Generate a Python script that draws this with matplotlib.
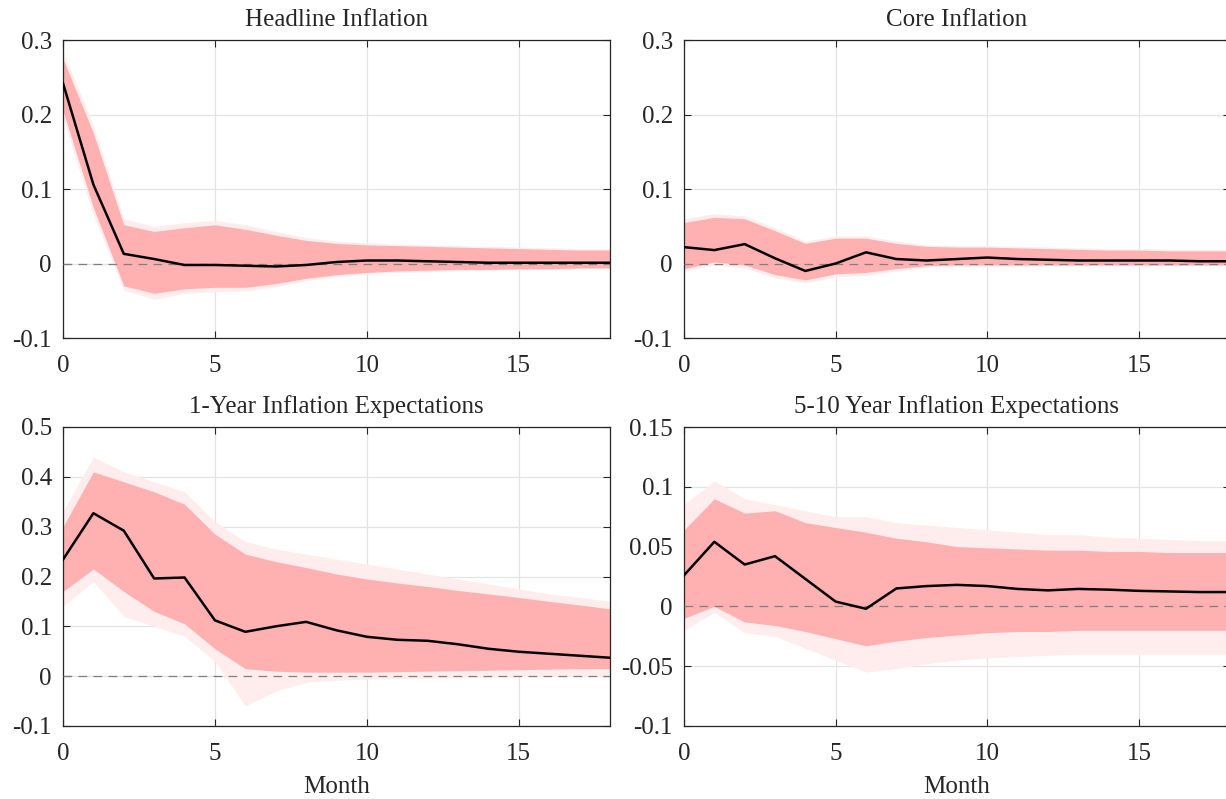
import numpy as np
import matplotlib
matplotlib.use("Agg")
import matplotlib.pyplot as plt
from matplotlib.ticker import FuncFormatter

plt.rcParams['font.family'] = ['Liberation Serif', 'DejaVu Serif']
plt.rcParams['axes.unicode_minus'] = False

months = np.arange(0, 19)

# median responses
headline = [0.242, 0.106, 0.013, 0.006, -0.002, -0.002, -0.003, -0.004, -0.002, 0.002,
            0.004, 0.004, 0.003, 0.002, 0.001, 0.001, 0.001, 0.001, 0.001]
core = [0.022, 0.018, 0.026, 0.007, -0.010, 0.000, 0.015, 0.006, 0.004, 0.006,
        0.008, 0.006, 0.005, 0.004, 0.004, 0.004, 0.004, 0.003, 0.003]
exp1y = [0.234, 0.327, 0.292, 0.196, 0.198, 0.112, 0.089, 0.100, 0.109, 0.092,
         0.079, 0.073, 0.071, 0.064, 0.055, 0.049, 0.045, 0.041, 0.037]
exp510 = [0.026, 0.054, 0.035, 0.042, 0.023, 0.004, -0.002, 0.015, 0.017, 0.018,
          0.017, 0.0146, 0.0134, 0.0146, 0.014, 0.013, 0.0125, 0.012, 0.012]

# dense band of draws (upper / lower)
headline_hi = [0.275, 0.175, 0.052, 0.043, 0.048, 0.052, 0.046, 0.038, 0.031, 0.027,
               0.025, 0.024, 0.023, 0.022, 0.021, 0.020, 0.019, 0.018, 0.018]
headline_lo = [0.205, 0.075, -0.030, -0.040, -0.034, -0.032, -0.032, -0.027, -0.020, -0.015,
               -0.012, -0.010, -0.009, -0.008, -0.008, -0.007, -0.007, -0.006, -0.006]
core_hi = [0.055, 0.062, 0.060, 0.044, 0.027, 0.034, 0.034, 0.027, 0.023, 0.022,
           0.022, 0.021, 0.020, 0.019, 0.018, 0.018, 0.017, 0.017, 0.017]
core_lo = [-0.007, 0.002, -0.002, -0.015, -0.022, -0.014, -0.012, -0.007, -0.003, -0.002,
           -0.002, -0.002, -0.002, -0.002, -0.002, -0.002, -0.002, -0.002, -0.002]
exp1y_hi = [0.300, 0.410, 0.390, 0.370, 0.345, 0.285, 0.245, 0.230, 0.218, 0.205,
            0.195, 0.187, 0.180, 0.172, 0.165, 0.158, 0.150, 0.143, 0.135]
exp1y_lo = [0.170, 0.215, 0.170, 0.130, 0.105, 0.055, 0.015, 0.010, 0.008, 0.008,
            0.008, 0.009, 0.010, 0.011, 0.012, 0.013, 0.014, 0.015, 0.015]
exp510_hi = [0.064, 0.090, 0.078, 0.080, 0.070, 0.066, 0.062, 0.057, 0.054, 0.050,
             0.049, 0.048, 0.047, 0.047, 0.046, 0.046, 0.045, 0.045, 0.045]
exp510_lo = [-0.010, 0.000, -0.013, -0.016, -0.021, -0.027, -0.033, -0.029, -0.026, -0.024,
             -0.022, -0.021, -0.021, -0.020, -0.020, -0.020, -0.020, -0.020, -0.020]

# faint outer draws
headline_hi2 = [0.285, 0.185, 0.060, 0.050, 0.055, 0.058, 0.052, 0.043, 0.035, 0.030,
                0.028, 0.026, 0.025, 0.024, 0.023, 0.022, 0.021, 0.020, 0.020]
headline_lo2 = [0.195, 0.065, -0.036, -0.048, -0.040, -0.038, -0.037, -0.031, -0.023, -0.017,
                -0.014, -0.012, -0.011, -0.010, -0.009, -0.008, -0.008, -0.007, -0.007]
core_hi2 = [0.060, 0.067, 0.064, 0.048, 0.030, 0.037, 0.037, 0.030, 0.025, 0.024,
            0.024, 0.023, 0.022, 0.021, 0.020, 0.020, 0.019, 0.019, 0.019]
core_lo2 = [-0.010, -0.002, -0.006, -0.019, -0.026, -0.018, -0.016, -0.010, -0.005, -0.004,
            -0.004, -0.004, -0.003, -0.003, -0.003, -0.003, -0.003, -0.003, -0.003]
exp1y_hi2 = [0.330, 0.440, 0.410, 0.390, 0.370, 0.310, 0.270, 0.255, 0.245, 0.235,
             0.225, 0.215, 0.205, 0.195, 0.185, 0.175, 0.165, 0.158, 0.150]
exp1y_lo2 = [0.140, 0.190, 0.120, 0.100, 0.080, 0.030, -0.060, -0.030, -0.012, -0.008,
             -0.006, -0.005, -0.004, -0.003, -0.002, -0.001, 0.000, 0.000, 0.000]
exp510_hi2 = [0.085, 0.105, 0.090, 0.085, 0.080, 0.075, 0.075, 0.070, 0.068, 0.066,
              0.064, 0.062, 0.060, 0.060, 0.058, 0.057, 0.056, 0.055, 0.055]
exp510_lo2 = [-0.020, -0.005, -0.022, -0.025, -0.035, -0.045, -0.055, -0.052, -0.048, -0.045,
              -0.043, -0.042, -0.041, -0.040, -0.040, -0.040, -0.040, -0.040, -0.040]

titles = ['Headline Inflation', 'Core Inflation',
          '1-Year Inflation Expectations', '5-10 Year Inflation Expectations']
medians = [headline, core, exp1y, exp510]
bands = [(headline_lo, headline_hi), (core_lo, core_hi), (exp1y_lo, exp1y_hi), (exp510_lo, exp510_hi)]
outer = [(headline_lo2, headline_hi2), (core_lo2, core_hi2), (exp1y_lo2, exp1y_hi2), (exp510_lo2, exp510_hi2)]
ylims = [(-0.1, 0.3), (-0.1, 0.3), (-0.1, 0.5), (-0.1, 0.15)]
yticks = [np.arange(-0.1, 0.31, 0.1), np.arange(-0.1, 0.31, 0.1),
          np.arange(-0.1, 0.51, 0.1), np.arange(-0.1, 0.151, 0.05)]

W, H = 1226, 799
fig = plt.figure(figsize=(W / 100, H / 100), dpi=100)
# axes boxes in pixels: left, top, right, bottom
boxes = [(63, 40, 610, 338), (684, 40, 1230, 338),
         (63, 427, 610, 726), (684, 427, 1230, 726)]

edge = '#262626'
fmt = FuncFormatter(lambda v, p: ('%g' % round(v, 3)))

for i, (l, t, r, b) in enumerate(boxes):
    ax = fig.add_axes([l / W, 1 - b / H, (r - l) / W, (b - t) / H])
    lo2, hi2 = outer[i]
    lo, hi = bands[i]
    ax.fill_between(months, lo2, hi2, color='#ffeded', lw=0, zorder=1)
    ax.fill_between(months, lo, hi, color='#ffb1b1', lw=0, zorder=2)
    ax.axhline(0, color='#7f7f7f', lw=0.9, ls=(0, (7, 5)), zorder=3)
    ax.plot(months, medians[i], color='black', lw=1.8, zorder=4)
    ax.set_xlim(0, 18)
    ax.set_ylim(*ylims[i])
    ax.set_xticks([0, 5, 10, 15])
    ax.set_yticks(yticks[i])
    ax.yaxis.set_major_formatter(fmt)
    ax.grid(True, color='#e3e3e3', lw=0.9, zorder=0)
    ax.set_axisbelow(True)
    ax.tick_params(direction='in', top=True, right=True, length=5, width=0.8,
                   colors=edge, labelsize=18)
    ax.tick_params(axis='x', pad=12)
    ax.tick_params(axis='y', pad=8)
    for s in ax.spines.values():
        s.set_color(edge)
        s.set_linewidth(0.9)
    ax.set_title(titles[i], fontsize=18, color=edge, pad=10)
    if i >= 2:
        ax.set_xlabel('Month', fontsize=18, color=edge, labelpad=8)

fig.savefig('out.png', dpi=100)
